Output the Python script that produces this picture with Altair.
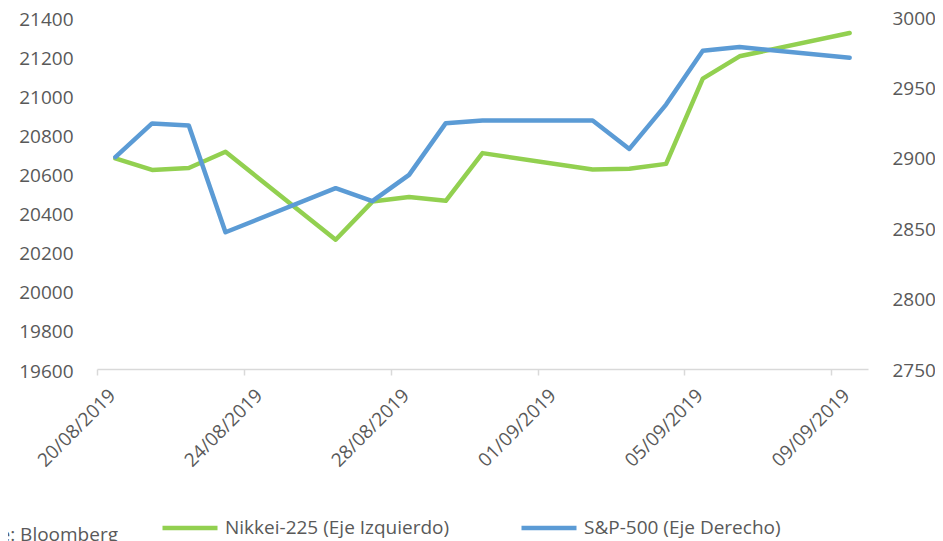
import altair as alt
import pandas as pd

# Trading dates (points sit at the middle of each day)
dates = ["2019-08-20", "2019-08-21", "2019-08-22", "2019-08-23", "2019-08-26",
         "2019-08-27", "2019-08-28", "2019-08-29", "2019-08-30", "2019-09-02",
         "2019-09-03", "2019-09-04", "2019-09-05", "2019-09-06", "2019-09-09"]
nikkei = [20677, 20618, 20628, 20711, 20261, 20456, 20479, 20460, 20704, 20620,
          20624, 20649, 21085, 21199, 21318]
sp500 = [2900.5, 2924.4, 2923.0, 2847.1, 2878.4, 2869.2, 2887.9, 2924.6, 2926.5, 2926.5,
         2906.3, 2937.8, 2976.0, 2978.7, 2971.0]

series_names = ["Nikkei-225 (Eje Izquierdo)", "S&P-500 (Eje Derecho)"]
series_colors = ["#92D050", "#5B9BD5"]

x_tick_dates = [(2019, 8, 20), (2019, 8, 24), (2019, 8, 28), (2019, 9, 1), (2019, 9, 5), (2019, 9, 9)]
left_ticks = list(range(19600, 21401, 200))
right_ticks = list(range(2750, 3001, 50))
source_text = "Fuente: Bloomberg"

FONT = "Open Sans"
TXT = "#595959"
FS = 19

df_n = pd.DataFrame({"fecha": [d + "T12:00:00" for d in dates], "valor": nikkei,
                     "serie": series_names[0]})
df_s = pd.DataFrame({"fecha": [d + "T12:00:00" for d in dates], "valor": sp500,
                     "serie": series_names[1]})

x_enc = alt.X(
    "fecha:T",
    scale=alt.Scale(domain=[alt.DateTime(year=2019, month=8, date=20),
                            alt.DateTime(year=2019, month=9, date=10)]),
    axis=alt.Axis(
        values=[alt.DateTime(year=y, month=m, date=d) for (y, m, d) in x_tick_dates],
        format="%d/%m/%Y", labelAngle=-45, labelAlign="right", labelBaseline="middle",
        title=None, grid=False, domainColor="#D9D9D9", domainWidth=1.5,
        tickColor="#D9D9D9", tickWidth=1.5, tickSize=6, labelPadding=17, labelOffset=15,
        labelFont=FONT, labelFontSize=FS, labelColor=TXT, labelFlush=False,
        labelOverlap=False,
    ),
)

color_enc = alt.Color(
    "serie:N",
    scale=alt.Scale(domain=series_names, range=series_colors),
    legend=alt.Legend(
        title=None, orient="none", direction="horizontal", legendX=63, legendY=481,
        symbolType="stroke", symbolSize=3025, symbolStrokeWidth=4.5,
        labelFont=FONT, labelFontSize=FS, labelColor=TXT, labelOffset=5, labelLimit=0,
        columnPadding=62, padding=0,
    ),
)

left = alt.Chart(df_n).mark_line(strokeWidth=4.5, strokeCap="round", strokeJoin="round").encode(
    x=x_enc,
    y=alt.Y("valor:Q", scale=alt.Scale(domain=[19600, 21400], nice=False, zero=False),
            axis=alt.Axis(orient="left", values=left_ticks, format="d", title=None, grid=False,
                          domain=False, ticks=False, tickSize=0, labelPadding=24, labelOffset=2,
                          labelFont=FONT, labelFontSize=FS, labelColor=TXT)),
    color=color_enc,
)

right = alt.Chart(df_s).mark_line(strokeWidth=4.5, strokeCap="round", strokeJoin="round").encode(
    x=x_enc,
    y=alt.Y("valor:Q", scale=alt.Scale(domain=[2750, 3000], nice=False, zero=False),
            axis=alt.Axis(orient="right", values=right_ticks, format="d", title=None, grid=False,
                          domain=False, ticks=False, tickSize=0, labelPadding=24, labelOffset=1,
                          labelFont=FONT, labelFontSize=FS, labelColor=TXT)),
    color=color_enc,
)

source = alt.Chart(pd.DataFrame({"t": [source_text]})).mark_text(
    align="right", baseline="alphabetic", font=FONT, fontSize=FS, color=TXT
).encode(x=alt.value(21), y=alt.value(524), text="t:N")

chart = alt.layer(left, right, source).resolve_scale(y="independent").properties(
    width=771, height=352,
    autosize=alt.AutoSizeParams(type="none"),
    padding={"left": 89, "top": 9, "right": 67, "bottom": 172},
).configure_view(stroke=None)

chart.save("out.html", embed_options={"renderer": "svg", "actions": False})
